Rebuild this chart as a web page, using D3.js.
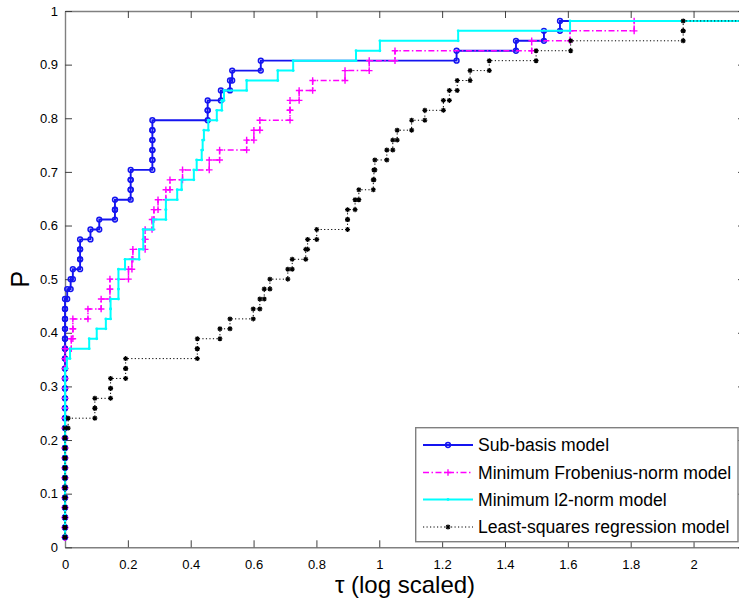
<!DOCTYPE html>
<html><head><meta charset="utf-8">
<script src="https://cdn.jsdelivr.net/npm/d3@7"></script>
<style>body{margin:0;background:#fff} svg{display:block}</style>
</head><body><svg id="c" width="739" height="603"></svg>
<script>
// ---- data: sorted log2 performance ratios of 54 problems (NaN = failed) ----
const nProblems = 54;
const seriesNames = ["Sub-basis model", "Minimum Frobenius-norm model", "Minimum l2-norm model", "Least-squares regression model"];
const subBasis = [0,0,0,0,0,0,0,0,0,0,0,0,0,0,0,0,0,0,0,0,0,0,0,0,0,
  0.007,0.018,0.025,0.048,0.048,0.048,0.081,0.109,0.159,0.159,0.209,0.209,0.209,
  0.278,0.278,0.278,0.278,0.278,0.454,0.454,0.496,0.525,0.532,0.623,1.246,1.435,1.524,1.575,NaN];
const frobenius = [0,0,0,0,0,0,0,0,0,0,0,0,0,0,0,0,0,0,0,0,
  0.020,0.025,0.025,0.073,0.115,0.143,0.143,0.202,0.213,0.216,0.255,0.255,0.277,0.283,0.296,
  0.321,0.334,0.374,0.459,0.492,0.578,0.601,0.620,0.716,0.716,0.745,0.788,0.891,0.968,1.050,
  1.485,1.607,1.811,NaN];
const l2norm = [0,0,0,0,0,0,0,0,0,0,0,0,0,0,0,0,0,0,
  0.006,0.016,0.077,0.101,0.130,0.145,0.145,0.170,0.170,0.170,0.191,0.236,0.249,0.249,0.281,
  0.321,0.321,0.357,0.371,0.410,0.419,0.435,0.438,0.442,0.456,0.483,0.499,0.506,0.578,0.677,
  0.726,0.926,1.002,1.251,1.607,NaN];
const leastSquares = [0,0,0,0,0,0,0,0,0,0,0,0,
  0.010,0.095,0.095,0.145,0.145,0.193,0.193,0.421,0.421,0.493,0.525,0.599,0.620,0.634,0.652,
  0.709,0.723,0.766,0.772,0.801,0.899,0.899,0.923,0.935,0.981,0.983,0.986,1.024,1.043,1.057,
  1.103,1.145,1.204,1.223,1.248,1.289,1.350,1.499,1.609,1.967,1.967,NaN];
const xTicks = [0,0.2,0.4,0.6,0.8,1,1.2,1.4,1.6,1.8,2];
const yTicks = [0,0.1,0.2,0.3,0.4,0.5,0.6,0.7,0.8,0.9,1];
const xTickLabels = ["0","0.2","0.4","0.6","0.8","1","1.2","1.4","1.6","1.8","2"];
const yTickLabels = ["0","0.1","0.2","0.3","0.4","0.5","0.6","0.7","0.8","0.9","1"];

// ---- layout ----
const L = 65, R = 745, T = 11, B = 547.3;
const allData = [subBasis, frobenius, l2norm, leastSquares];
const maxRatio = d3.max(allData.flat().filter(v => isFinite(v)));
const xMax = 1.1 * maxRatio;
const x = d3.scaleLinear().domain([0, xMax]).range([L, R]);
const y = d3.scaleLinear().domain([0, 1]).range([B, T]);

const styles = [
  {color:"#1414f0", width:1.9, dash:null, marker:"o"},
  {color:"#ff00ff", width:1.5, dash:"6,2.5,1.5,2.5", marker:"+"},
  {color:"#00ffff", width:2, dash:null, marker:"."},
  {color:"#000000", width:1, dash:"1.2,2.3", marker:"*"}
];

const svg = d3.select("#c");
const font = "'Liberation Sans', Arial, Helvetica, sans-serif";

svg.append("defs").append("clipPath").attr("id","clip")
  .append("rect").attr("x", L-3).attr("y", T).attr("width", R-L+3).attr("height", B-T+3);

// axes (box with inward ticks)
function styleAxis(g){
  g.selectAll(".domain").attr("stroke","#808080").attr("stroke-width",1.4);
  g.selectAll(".tick line").attr("stroke","#404040").attr("stroke-width",1);
  g.selectAll("text").attr("font-family",font).attr("font-size","13px").attr("fill","#000");
}
const gx = svg.append("g").attr("transform",`translate(0,${B})`)
  .call(d3.axisBottom(x).tickValues(xTicks).tickFormat((d,i)=>xTickLabels[i]).tickSize(-7).tickSizeOuter(0).tickPadding(12));
styleAxis(gx);
const gxt = svg.append("g").attr("transform",`translate(0,${T})`)
  .call(d3.axisTop(x).tickValues(xTicks).tickFormat("").tickSize(-7).tickSizeOuter(0));
styleAxis(gxt);
const gy = svg.append("g").attr("transform",`translate(${L},0)`)
  .call(d3.axisLeft(y).tickValues(yTicks).tickFormat((d,i)=>yTickLabels[i]).tickSize(-7).tickSizeOuter(0).tickPadding(7));
styleAxis(gy);
const gyr = svg.append("g").attr("transform",`translate(${R},0)`)
  .call(d3.axisRight(y).tickValues(yTicks).tickFormat("").tickSize(-7).tickSizeOuter(0));
styleAxis(gyr);

// stairs points (MATLAB stairs): (r_k, y_k), (r_{k+1}, y_k)
function stairs(r){
  const rr = r.map(v => isFinite(v) ? v : 2*maxRatio);
  const pts = [];
  for (let k = 0; k < rr.length; k++){
    const yy = (k+1)/nProblems;
    pts.push([rr[k], yy]);
    if (k < rr.length-1) pts.push([rr[k+1], yy]);
  }
  return pts;
}

function drawMarker(g, type, cx, cy, color){
  if (type === "o"){
    g.append("circle").attr("cx",cx).attr("cy",cy).attr("r",2.4)
      .attr("fill","none").attr("stroke",color).attr("stroke-width",1.5);
  } else if (type === "+"){
    const s = 3.3;
    g.append("path").attr("d",`M${cx-s},${cy}H${cx+s}M${cx},${cy-s}V${cy+s}`)
      .attr("stroke",color).attr("stroke-width",1.4).attr("fill","none");
  } else if (type === "."){
    g.append("circle").attr("cx",cx).attr("cy",cy).attr("r",1.4).attr("fill",color);
  } else if (type === "*"){
    const s = 2.5, d = 1.8;
    g.append("path").attr("d",`M${cx-s},${cy}H${cx+s}M${cx},${cy-s}V${cy+s}M${cx-d},${cy-d}L${cx+d},${cy+d}M${cx-d},${cy+d}L${cx+d},${cy-d}`)
      .attr("stroke",color).attr("stroke-width",1.2).attr("fill","none");
  }
}

const line = d3.line().x(d => x(d[0])).y(d => y(d[1]));
allData.forEach((r, i) => {
  const st = styles[i];
  const pts = stairs(r);
  const g = svg.append("g");
  g.append("path").attr("d", line(pts)).attr("clip-path","url(#clip)")
    .attr("fill","none").attr("stroke",st.color).attr("stroke-width",st.width)
    .attr("stroke-dasharray",st.dash);
  const mg = g.append("g");
  pts.filter(p => p[0] <= xMax).forEach(p => drawMarker(mg, st.marker, x(p[0]), y(p[1]), st.color));
});

// legend
const lg = svg.append("g");
lg.append("rect").attr("x",415.7).attr("y",427.7).attr("width",322.3).attr("height",114)
  .attr("fill","#fff").attr("stroke","#808080").attr("stroke-width",1.4);
const legendRows = [445, 472.5, 499.5, 527];
seriesNames.forEach((name, i) => {
  const st = styles[i], yy = legendRows[i];
  lg.append("line").attr("x1",423).attr("x2",473).attr("y1",yy).attr("y2",yy)
    .attr("stroke",st.color).attr("stroke-width",st.width).attr("stroke-dasharray",st.dash);
  drawMarker(lg, st.marker, 448, yy, st.color);
  lg.append("text").attr("x",478).attr("y",yy).attr("dy","0.35em")
    .attr("font-family",font).attr("font-size","17.6px").attr("fill","#000").text(name);
});

// axis labels
svg.append("text").attr("x",(L+R)/2).attr("y",593).attr("text-anchor","middle")
  .attr("font-family",font).attr("font-size","24px").attr("fill","#000").text("τ (log scaled)");
svg.append("text").attr("transform",`translate(29,${(T+B)/2}) rotate(-90)`).attr("text-anchor","middle")
  .attr("font-family",font).attr("font-size","25px").attr("fill","#000").text("P");
</script></body></html>
